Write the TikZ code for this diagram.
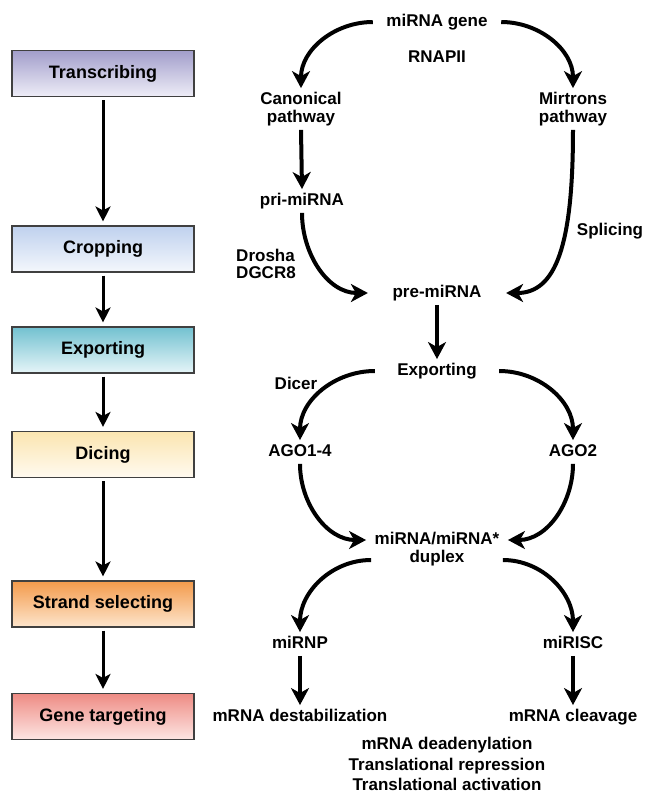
\documentclass[tikz,border=0pt]{standalone}
\usepackage{fontspec}
\setmainfont{Liberation Sans}
\usetikzlibrary{arrows.meta}
\definecolor{tTop}{HTML}{A29ECB}\definecolor{tBot}{HTML}{EEEDF7}
\definecolor{cTop}{HTML}{BFD1EE}\definecolor{cBot}{HTML}{F4F7FC}
\definecolor{eTop}{HTML}{72C1D0}\definecolor{eBot}{HTML}{E6F5F8}
\definecolor{dTop}{HTML}{FBE5B0}\definecolor{dBot}{HTML}{FFFAF0}
\definecolor{sTop}{HTML}{F39A4B}\definecolor{sBot}{HTML}{FDE5CC}
\definecolor{gTop}{HTML}{EE8B84}\definecolor{gBot}{HTML}{FDE6E3}
\begin{document}
\begin{tikzpicture}[x=1pt,y=1pt,
  lbl/.style={font=\fontsize{17}{17.5}\selectfont\bfseries, align=center, inner sep=4pt, text height=12pt, text depth=3.5pt},
  lbl2/.style={font=\fontsize{17}{17.5}\selectfont\bfseries, align=center, inner sep=4pt},
  stage/.style={draw=black!75, line width=1.1pt, minimum width=182pt, minimum height=46pt,
    font=\fontsize{18}{20}\selectfont\bfseries, inner sep=0pt},
  flow/.style={line width=4pt, -{Stealth[length=17pt,width=18pt,inset=5pt]}},
  sflow/.style={line width=3pt, -{Stealth[length=15pt,width=15pt,inset=4pt]}, shorten <=3pt, shorten >=4pt}]
\useasboundingbox (0,0) rectangle (646,-793);
% left stages
\node[stage, top color=tTop, bottom color=tBot] (st1) at (103,-73.5) {Transcribing};
\node[stage, top color=cTop, bottom color=cBot] (st2) at (103,-249) {Cropping};
\node[stage, top color=eTop, bottom color=eBot] (st3) at (103,-350) {Exporting};
\node[stage, top color=dTop, bottom color=dBot] (st4) at (103,-454.5) {Dicing};
\node[stage, top color=sTop, bottom color=sBot] (st5) at (103,-604) {Strand selecting};
\node[stage, top color=gTop, bottom color=gBot] (st6) at (103,-716.5) {Gene targeting};
\draw[sflow] (st1.south) -- (st2.north);
\draw[sflow] (st2.south) -- (st3.north);
\draw[sflow] (st3.south) -- (st4.north);
\draw[sflow] (st4.south) -- (st5.north);
\draw[sflow] (st5.south) -- (st6.north);
% right pathway
\node[lbl, inner xsep=13.5pt] (gene) at (437,-22) {miRNA gene};
\node[lbl] (rnap) at (437,-58) {RNAPII};
\node[lbl2] (canon) at (301,-109) {Canonical\\pathway};
\node[lbl2] (mir) at (573,-109) {Mirtrons\\pathway};
\node[lbl] (pri) at (302,-201) {pri-miRNA};
\node[lbl2, align=left] (drosha) at (266,-264) {Drosha\\DGCR8};
\node[lbl] (splice) at (610,-231) {Splicing};
\node[lbl, inner xsep=24.5pt] (pre) at (437,-293) {pre-miRNA};
\node[lbl, inner xsep=22.3pt] (exp) at (437,-371) {Exporting};
\node[lbl] (dicer) at (296,-385) {Dicer};
\node[lbl] (ago14) at (300,-452) {AGO1-4};
\node[lbl] (ago2) at (573,-452) {AGO2};
\node[lbl2, inner xsep=8.4pt] (dup) at (437,-549) {miRNA/miRNA*\\duplex};
\node[lbl] (mirnp) at (300,-644) {miRNP};
\node[lbl] (mirisc) at (573,-644) {miRISC};
\node[lbl] (destab) at (300,-717) {mRNA destabilization};
\node[lbl] (cleav) at (573,-717) {mRNA cleavage};
\node[font=\fontsize{17}{20.5}\selectfont\bfseries, align=center, inner sep=0pt] (eff) at (447,-764) {mRNA deadenylation\\Translational repression\\Translational activation};
\draw[flow] (gene.west) to[out=180,in=90] (canon.north);
\draw[flow] (gene.east) to[out=0,in=90] (mir.north);
\draw[flow] (canon.south) -- (pri.north);
\draw[flow] (pri.south) to[out=-90,in=180] (pre.west);
\draw[flow] (mir.south) .. controls +(0,-115) and +(50,0) .. (pre.east);
\draw[flow] (pre.south) -- (exp.north);
\draw[flow] (exp.west) to[out=180,in=90] (ago14.north);
\draw[flow] (exp.east) to[out=0,in=90] (ago2.north);
\draw[flow] (ago14.south) to[out=-90,in=180] ([yshift=9pt]dup.west);
\draw[flow] (ago2.south) to[out=-90,in=0] ([yshift=9pt]dup.east);
\draw[flow] ([xshift=5pt,yshift=-11pt]dup.west) to[out=180,in=90] (mirnp.north);
\draw[flow] ([xshift=-5pt,yshift=-11pt]dup.east) to[out=0,in=90] (mirisc.north);
\draw[flow] (mirnp.south) -- (destab.north);
\draw[flow] (mirisc.south) -- (cleav.north);
\end{tikzpicture}
\end{document}
